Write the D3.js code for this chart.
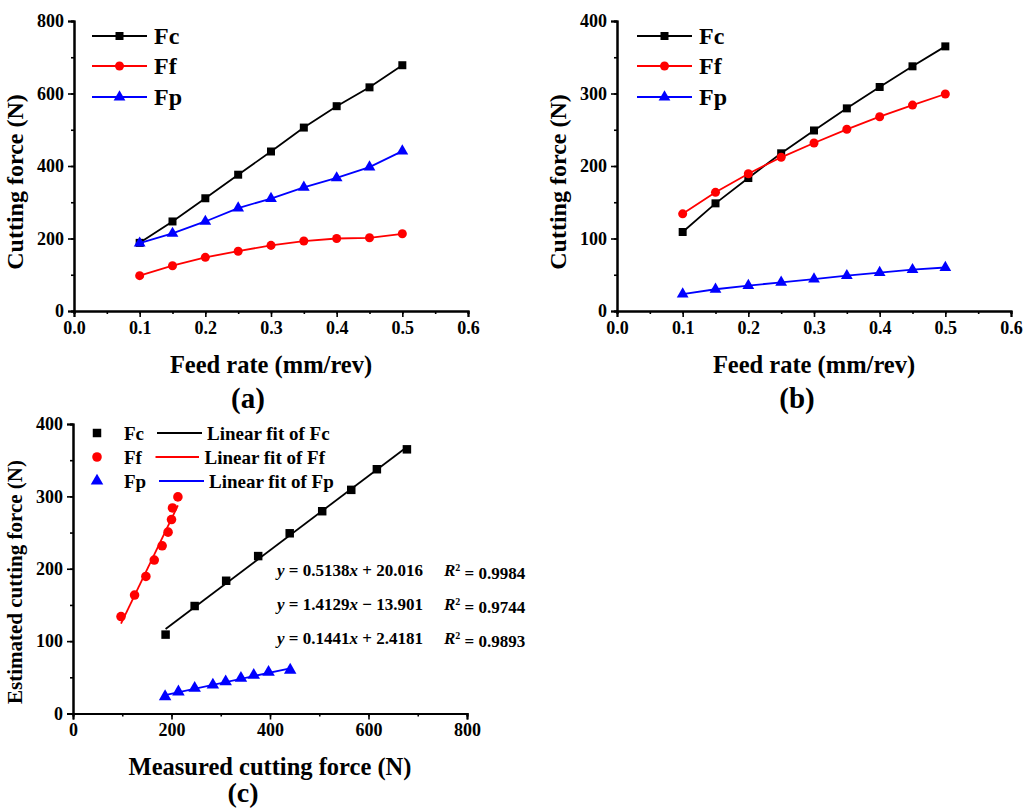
<!DOCTYPE html>
<html><head><meta charset="utf-8">
<script src="https://cdn.jsdelivr.net/npm/d3@7"></script>
<style>
body{margin:0;background:#fff;}
svg{display:block;font-family:"Liberation Serif","Times New Roman",serif;font-weight:bold;}
</style></head>
<body><svg id="c" width="1024" height="811"></svg>
<script>
// ---- data ----
const feedRate = [0.1,0.15,0.2,0.25,0.3,0.35,0.4,0.45,0.5];
// panel (a) measured
const fcA = [188,247,311,376,440,506,565,617,678];
const ffA = [97.5,125,148,165,181,193,200,202,213];
const fpA = [187,214,247,284,310,341,367,397,441];
// panel (b) estimated
const fcB = [109,148.5,183.4,217.5,249,279.5,309,337.5,365];
const ffB = [134,163.7,189.4,212,231.7,250.6,268,284,299.3];
const fpB = [23.4,30,35,39.5,44,48.7,52.9,57,60];
const seriesNames = ["Fc","Ff","Fp"];
const seriesColors = ["#000000","#ff0000","#0000ff"];
const xTicksAB = [0,0.1,0.2,0.3,0.4,0.5,0.6];
const yTicksA = [0,200,400,600,800];
const yTicksB = [0,100,200,300,400];
const xTicksC = [0,200,400,600,800];
const yTicksC = [0,100,200,300,400];
const eqSlope = ["0.5138","1.4129","0.1441"];
const eqIntercept = ["+ 20.016","\u2212 13.901","+ 2.4181"];
const eqR2 = ["0.9984","0.9744","0.9893"];

const svg = d3.select("#c");
const symbols = [d3.symbolSquare, d3.symbolCircle, d3.symbolTriangle];
const symSizes = [64, 64, 60];

function drawAxes(g, x, y, xt, xminor, yt, yminor, xfmt){
  const ax = g.append("g").attr("transform",`translate(0,${y.range()[0]})`);
  ax.call(d3.axisBottom(x).tickValues(xminor).tickSize(3).tickFormat(""));
  ax.append("g").call(d3.axisBottom(x).tickValues(xt).tickSize(6).tickPadding(4).tickFormat(xfmt));
  const ay = g.append("g").attr("transform",`translate(${x.range()[0]},0)`);
  ay.call(d3.axisLeft(y).tickValues(yminor).tickSize(3).tickFormat(""));
  ay.append("g").call(d3.axisLeft(y).tickValues(yt).tickSize(6).tickPadding(4).tickFormat(d3.format("d")));
  g.selectAll(".domain").attr("stroke","#000").attr("stroke-width",2);
  g.selectAll(".tick line").attr("stroke","#000").attr("stroke-width",1.6);
  g.selectAll(".tick text").attr("fill","#000").style("font-size","18px").style("font-family","Liberation Serif").style("font-weight","bold");
}

function linePanel(xr, yr, ydom, yt, ys, label, xTitle, yTitle, yTitleX, labelPos, legendX){
  const g = svg.append("g");
  const x = d3.scaleLinear().domain([0,0.6]).range(xr);
  const y = d3.scaleLinear().domain(ydom).range(yr);
  const minorX = d3.range(0,0.6001,0.05).map(v=>+v.toFixed(2));
  const minorY = d3.range(0,ydom[1]+1,ydom[1]/8);
  drawAxes(g,x,y,xTicksAB,minorX,yt,minorY,d3.format(".1f"));
  ys.forEach((vals,i)=>{
    const pts = feedRate.map((f,j)=>[f,vals[j]]);
    g.append("path").datum(pts).attr("fill","none").attr("stroke",seriesColors[i]).attr("stroke-width",1.8)
      .attr("d",d3.line().x(d=>x(d[0])).y(d=>y(d[1])));
    g.selectAll(null).data(pts).enter().append("path")
      .attr("d",d3.symbol().type(symbols[i]).size(symSizes[i]))
      .attr("transform",d=>`translate(${x(d[0])},${y(d[1])})`).attr("fill",seriesColors[i]);
  });
  // legend
  const rows=[36,66,97];
  seriesNames.forEach((n,i)=>{
    g.append("line").attr("x1",legendX).attr("x2",legendX+55).attr("y1",rows[i]).attr("y2",rows[i])
      .attr("stroke",seriesColors[i]).attr("stroke-width",1.8);
    g.append("path").attr("d",d3.symbol().type(symbols[i]).size(symSizes[i]))
      .attr("transform",`translate(${legendX+27.5},${rows[i]})`).attr("fill",seriesColors[i]);
    g.append("text").attr("x",legendX+62).attr("y",rows[i]).attr("dy","0.35em").style("font-size","24px").text(n);
  });
  g.append("text").attr("x",labelPos[2]).attr("y",364).attr("dy","0.35em")
    .attr("text-anchor","middle").style("font-size","24.5px").text(xTitle);
  g.append("text").attr("transform",`translate(${yTitleX},182) rotate(-90)`).attr("dy","0.35em")
    .attr("text-anchor","middle").style("font-size","24px").text(yTitle);
  g.append("text").attr("x",labelPos[0]).attr("y",labelPos[1]).attr("dy","0.35em")
    .attr("text-anchor","middle").style("font-size","29px").text(label);
}

linePanel([74,468],[311,21],[0,800],yTicksA,[fcA,ffA,fpA],"(a)","Feed rate (mm/rev)","Cutting force (N)",15,[248,398,271],92);
linePanel([617,1011],[311,21],[0,400],yTicksB,[fcB,ffB,fpB],"(b)","Feed rate (mm/rev)","Cutting force (N)",558,[797,398,814],637);

// ---- panel (c) ----
(function(){
  const g = svg.append("g");
  const x = d3.scaleLinear().domain([0,800]).range([73,467]);
  const y = d3.scaleLinear().domain([0,400]).range([713.5,424]);
  drawAxes(g,x,y,xTicksC,d3.range(0,801,100),yTicksC,d3.range(0,401,50),d3.format("d"));
  const measured=[fcA,ffA,fpA], estimated=[fcB,ffB,fpB];
  measured.forEach((mx,i)=>{
    const ey = estimated[i];
    const pts = mx.map((v,j)=>[v,ey[j]]);
    // least squares fit
    const mxm=d3.mean(mx), mym=d3.mean(ey);
    const slope=d3.sum(mx,(v,j)=>(v-mxm)*(ey[j]-mym))/d3.sum(mx,v=>(v-mxm)*(v-mxm));
    const icpt=mym-slope*mxm;
    const ext=d3.extent(mx);
    g.append("line").attr("x1",x(ext[0])).attr("x2",x(ext[1]))
      .attr("y1",y(slope*ext[0]+icpt)).attr("y2",y(slope*ext[1]+icpt))
      .attr("stroke",seriesColors[i]).attr("stroke-width",1.8);
    g.selectAll(null).data(pts).enter().append("path")
      .attr("d",d3.symbol().type(symbols[i]).size(symSizes[i]+8))
      .attr("transform",d=>`translate(${x(d[0])},${y(d[1])})`).attr("fill",seriesColors[i]);
  });
  // legend
  const rows=[433,457,481];
  const lineX=[[157,202],[155.5,199],[159,204]];
  const txtX=[207,204.5,209];
  seriesNames.forEach((n,i)=>{
    g.append("path").attr("d",d3.symbol().type(symbols[i]).size(symSizes[i]+8))
      .attr("transform",`translate(97,${rows[i]})`).attr("fill",seriesColors[i]);
    g.append("text").attr("x",124).attr("y",rows[i]).attr("dy","0.35em").style("font-size","19px").text(n);
    g.append("line").attr("x1",lineX[i][0]).attr("x2",lineX[i][1]).attr("y1",rows[i]).attr("y2",rows[i])
      .attr("stroke",seriesColors[i]).attr("stroke-width",1.8);
    g.append("text").attr("x",txtX[i]).attr("y",rows[i]).attr("dy","0.35em").style("font-size","19px").text("Linear fit of "+n);
  });
  // equations
  const eqY=[570,604,638];
  eqSlope.forEach((s,i)=>{
    const t=g.append("text").attr("x",277).attr("y",eqY[i]).attr("dy","0.35em").style("font-size","17px");
    t.append("tspan").style("font-style","italic").text("y");
    t.append("tspan").text(" = "+s);
    t.append("tspan").style("font-style","italic").text("x");
    t.append("tspan").text(" "+eqIntercept[i]);
    const r=g.append("text").attr("x",444).attr("y",eqY[i]).attr("dy","0.35em").style("font-size","17px");
    r.append("tspan").style("font-style","italic").text("R");
    r.append("tspan").attr("dy","-0.45em").style("font-size","10px").text("2");
    r.append("tspan").attr("dy","0.45em").text(" = "+eqR2[i]);
  });
  g.append("text").attr("x",270).attr("y",766).attr("dy","0.35em").attr("text-anchor","middle").style("font-size","24.5px").text("Measured cutting force (N)");
  g.append("text").attr("transform","translate(15,582) rotate(-90)").attr("dy","0.35em").attr("text-anchor","middle").style("font-size","21px").text("Estimated cutting force (N)");
  g.append("text").attr("x",243).attr("y",792).attr("dy","0.35em").attr("text-anchor","middle").style("font-size","28px").text("(c)");
})();
</script></body></html>
